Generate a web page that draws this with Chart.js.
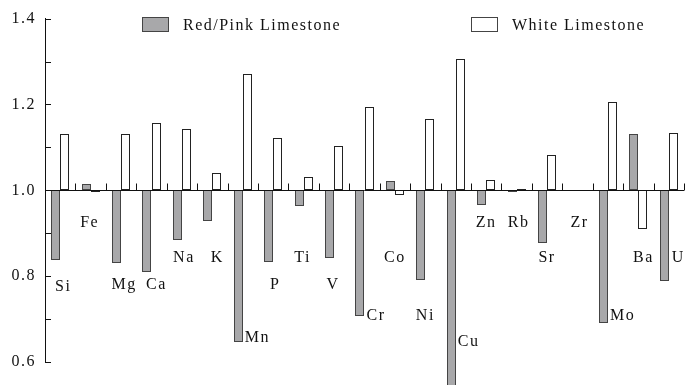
<!DOCTYPE html>
<html>
<head>
<meta charset="utf-8">
<script src="https://cdn.jsdelivr.net/npm/chart.js@4/dist/chart.umd.min.js"></script>
<style>
  html, body { margin: 0; padding: 0; background: #fff; }
  #wrap { width: 691px; height: 385px; position: relative; }
</style>
</head>
<body>
<div id="wrap"><canvas id="chart"></canvas></div>
<script>
const elements = ['Si', 'Fe', 'Mg', 'Ca', 'Na', 'K', 'Mn', 'P', 'Ti', 'V', 'Cr',
    'Co', 'Ni', 'Cu', 'Zn', 'Rb', 'Sr', 'Zr', 'Mo', 'Ba', 'U'];

// ratio values (Zr has no bars)
const redPink = [0.838, 1.014, 0.830, 0.809, 0.884, 0.928, 0.647, 0.833, 0.964, 0.843, 0.708,
    1.022, 0.791, 0.545, 0.965, 0.997, 0.877, null, 0.691, 1.132, 0.789];
const whiteLs = [1.131, 0.995, 1.131, 1.157, 1.142, 1.041, 1.271, 1.123, 1.030, 1.104, 1.195,
    0.988, 1.167, 1.306, 1.023, 1.003, 1.082, null, 1.206, 0.911, 1.134];

const seriesNames = ['Red/Pink Limestone', 'White Limestone'];
const yTicks = [0.6, 0.8, 1.0, 1.2, 1.4];

// where each element name sits: baseline (in axis units), horizontal nudge, alignment
const labelLayout = {
    Si: [0.765, 3, 'center'], Fe: [0.914, -1, 'center'], Mg: [0.770, 3, 'center'],
    Ca: [0.770, 5, 'center'], Na: [0.833, 2, 'center'], K: [0.833, 5, 'center'],
    Mn: [0.647, 2, 'left'], P: [0.770, 2, 'center'], Ti: [0.833, -1, 'center'],
    V: [0.770, -1, 'center'], Cr: [0.698, 2, 'left'], Co: [0.833, 0, 'center'],
    Ni: [0.698, 0, 'center'], Cu: [0.637, 2, 'left'], Zn: [0.914, 0, 'center'],
    Rb: [0.914, 2, 'center'], Sr: [0.833, 0, 'center'], Zr: [0.914, 2, 'center'],
    Mo: [0.698, 2, 'left'], Ba: [0.833, 5, 'center'], U: [0.833, 3, 'left']
};

const FONT = '16px "Liberation Serif", "DejaVu Serif", serif';
const INK = '#111';
const GRAY = '#a8a8aa';
const EDGE = '#444';

const floating = arr => arr.map(v => v == null ? null : [1, v]);

const decor = {
    id: 'decor',
    // snap bar edges to whole pixels so the 1px outlines stay crisp
    afterDatasetsUpdate(chart) {
        chart.data.datasets.forEach((ds, i) => {
            chart.getDatasetMeta(i).data.forEach(bar => {
                if (bar.skip) return;
                const w = Math.round(bar.width);
                const left = Math.round(bar.x - bar.width / 2);
                bar.width = w;
                bar.x = left + w / 2;
                bar.y = Math.round(bar.y);
                bar.base = Math.round(bar.base);
            });
        });
    },
    beforeDraw(chart) {
        chart.ctx.letterSpacing = '1.5px';
    },
    afterDatasetsDraw(chart) {
        const ctx = chart.ctx;
        const x = chart.scales.x;
        const y = chart.scales.y;
        const area = chart.chartArea;
        const base = Math.round(y.getPixelForValue(1)) + 0.5;

        ctx.save();
        ctx.strokeStyle = INK;
        ctx.lineWidth = 1;

        // horizontal axis at 1.0 with upward ticks between elements
        ctx.beginPath();
        ctx.moveTo(area.left, base);
        ctx.lineTo(area.right, base);
        const step = (area.right - area.left) / elements.length;
        for (let i = 1; i <= elements.length; i++) {
            const px = Math.round(area.left + i * step) + 0.5;
            ctx.moveTo(px, base);
            ctx.lineTo(px, base - 7);
        }
        // inward ticks on the y axis
        y.ticks.forEach(t => {
            const py = Math.round(y.getPixelForValue(t.value)) + 0.5;
            ctx.moveTo(area.left, py);
            ctx.lineTo(area.left + 6, py);
        });
        ctx.stroke();

        // element names
        ctx.font = FONT;
        ctx.fillStyle = INK;
        ctx.textBaseline = 'alphabetic';
        elements.forEach((el, i) => {
            const [v, dx, align] = labelLayout[el];
            ctx.textAlign = align;
            ctx.fillText(el, x.getPixelForValue(i) + dx, y.getPixelForValue(v));
        });

        // legend
        const boxes = [[142, GRAY, EDGE], [471, '#fff', '#444']];
        boxes.forEach(([bx, fill, stroke], i) => {
            ctx.fillStyle = fill;
            ctx.strokeStyle = stroke;
            ctx.fillRect(bx + 0.5, 17.5, 26, 14);
            ctx.strokeRect(bx + 0.5, 17.5, 26, 14);
            ctx.fillStyle = INK;
            ctx.textAlign = 'left';
            ctx.fillText(seriesNames[i], bx + 41, 29.5);
        });
        ctx.restore();
    }
};

new Chart(document.getElementById('chart'), {
    type: 'bar',
    data: {
        labels: elements,
        datasets: [
            {
                label: seriesNames[0],
                data: floating(redPink),
                backgroundColor: GRAY,
                borderColor: EDGE,
                borderWidth: 1,
                borderSkipped: false,
                clip: false
            },
            {
                label: seriesNames[1],
                data: floating(whiteLs),
                backgroundColor: '#fff',
                borderColor: '#222',
                borderWidth: 1,
                borderSkipped: false,
                clip: false
            }
        ]
    },
    options: {
        responsive: true,
        maintainAspectRatio: false,
        animation: false,
        events: [],
        datasets: {
            bar: { barPercentage: 1, categoryPercentage: 0.6 }
        },
        layout: { padding: { top: 18, bottom: 23, right: 7, left: 0 } },
        plugins: {
            legend: { display: false },
            tooltip: { enabled: false }
        },
        scales: {
            x: { display: false },
            y: {
                min: 0.6,
                max: 1.4,
                afterFit: s => { s.width = 45; },
                border: { display: true, color: INK, width: 1 },
                grid: { display: false, drawTicks: false },
                ticks: {
                    stepSize: 0.1,
                    padding: 9,
                    color: INK,
                    font: { family: '"Liberation Serif", serif', size: 16 },
                    callback: v => yTicks.some(t => Math.abs(t - v) < 1e-6) ? v.toFixed(1) : ''
                }
            }
        }
    },
    plugins: [decor]
});
</script>
</body>
</html>
